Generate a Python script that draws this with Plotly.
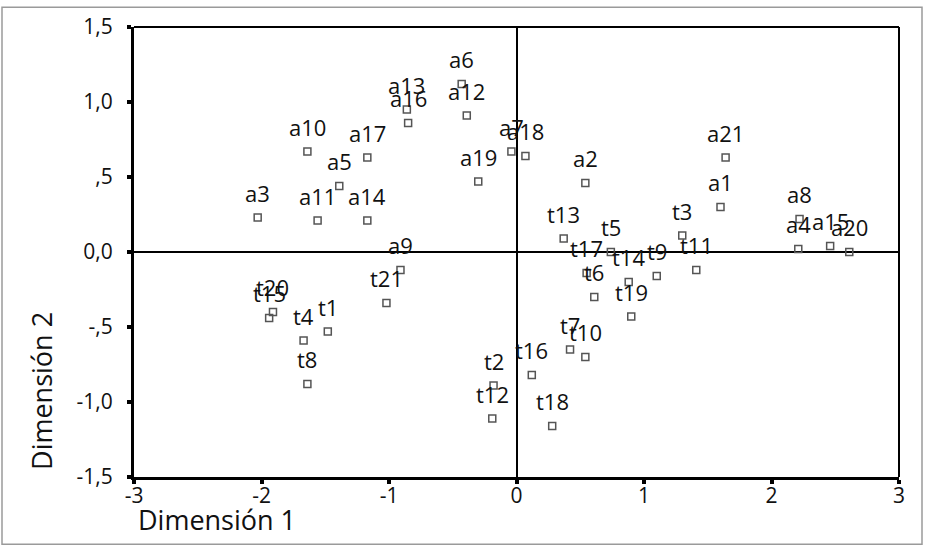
import plotly.graph_objects as go

# Category labels and coordinates (Dimensión 1, Dimensión 2)
a_labels = ["a1", "a2", "a3", "a4", "a5", "a6", "a7", "a8", "a9", "a10", "a11",
            "a12", "a13", "a14", "a15", "a16", "a17", "a18", "a19", "a20", "a21"]
a_dim1 = [1.60, 0.54, -2.03, 2.21, -1.39, -0.43, -0.04, 2.22, -0.91, -1.64, -1.56,
          -0.39, -0.86, -1.17, 2.46, -0.85, -1.17, 0.07, -0.30, 2.61, 1.64]
a_dim2 = [0.30, 0.46, 0.23, 0.02, 0.44, 1.12, 0.67, 0.22, -0.12, 0.67, 0.21,
          0.91, 0.95, 0.21, 0.04, 0.86, 0.63, 0.64, 0.47, 0.00, 0.63]

t_labels = ["t1", "t2", "t3", "t4", "t5", "t6", "t7", "t8", "t9", "t10", "t11",
            "t12", "t13", "t14", "t15", "t16", "t17", "t18", "t19", "t20", "t21"]
t_dim1 = [-1.48, -0.18, 1.30, -1.67, 0.74, 0.61, 0.42, -1.64, 1.10, 0.54, 1.41,
          -0.19, 0.37, 0.88, -1.94, 0.12, 0.55, 0.28, 0.90, -1.91, -1.02]
t_dim2 = [-0.53, -0.89, 0.11, -0.59, 0.00, -0.30, -0.65, -0.88, -0.16, -0.70, -0.12,
          -1.11, 0.09, -0.20, -0.44, -0.82, -0.14, -1.16, -0.43, -0.40, -0.34]

x_tickvals = [-3, -2, -1, 0, 1, 2, 3]
x_ticktext = ["-3", "-2", "-1", "0", "1", "2", "3"]
y_tickvals = [-1.5, -1.0, -0.5, 0.0, 0.5, 1.0, 1.5]
y_ticktext = ["-1,5", "-1,0", "-,5", "0,0", ",5", "1,0", "1,5"]

FONT = "Open Sans, Liberation Sans, Arial, sans-serif"

fig = go.Figure()
marker = dict(symbol="square-open", size=7, color="#555555", line=dict(width=1.5, color="#555555"))
fig.add_trace(go.Scatter(x=a_dim1, y=a_dim2, mode="markers", marker=marker,
                         showlegend=False, hoverinfo="text", text=a_labels))
fig.add_trace(go.Scatter(x=t_dim1, y=t_dim2, mode="markers", marker=marker,
                         showlegend=False, hoverinfo="text", text=t_labels))

annotations = []
for lab, xv, yv in list(zip(a_labels, a_dim1, a_dim2)) + list(zip(t_labels, t_dim1, t_dim2)):
    annotations.append(dict(x=xv, y=yv, xref="x", yref="y", text=lab, showarrow=False,
                            yshift=25, font=dict(family=FONT, size=22, color="#111111")))

annotations.append(dict(x=(136 - 134) / 765, y=(477 - 520) / 455, xref="paper", yref="paper",
                        text="Dimensión 1", showarrow=False, xanchor="left", yanchor="middle",
                        font=dict(family=FONT, size=27, color="#111111")))
annotations.append(dict(x=(42 - 134) / 765, y=(477 - 390) / 455, xref="paper", yref="paper",
                        text="Dimensión 2", showarrow=False, textangle=-90,
                        xanchor="center", yanchor="middle",
                        font=dict(family=FONT, size=27, color="#111111")))

shapes = [
    # top and right frame lines (thinner than axes)
    dict(type="line", xref="paper", yref="paper", x0=0, x1=1, y0=1, y1=1,
         line=dict(color="black", width=2)),
    dict(type="line", xref="paper", yref="paper", x0=1, x1=1, y0=0, y1=1,
         line=dict(color="black", width=2)),
    # outer gray border of the picture
    dict(type="rect", xref="paper", yref="paper",
         x0=(2 - 134) / 765, x1=(922 - 134) / 765,
         y0=(477 - 545) / 455, y1=(477 - 2) / 455,
         line=dict(color="#9a9a9a", width=1.5), layer="below"),
]

fig.update_layout(
    width=925, height=548,
    margin=dict(l=134, r=26, t=22, b=71),
    paper_bgcolor="white", plot_bgcolor="white",
    annotations=annotations, shapes=shapes,
    font=dict(family=FONT, color="#111111"),
)
fig.update_xaxes(range=[-3, 3], tickvals=x_tickvals, ticktext=x_ticktext,
                 showgrid=False, zeroline=True, zerolinecolor="black", zerolinewidth=1.5,
                 showline=True, linecolor="black", linewidth=3,
                 ticks="outside", ticklen=4, tickwidth=4, tickcolor="black",
                 ticklabelstandoff=-6,
                 tickfont=dict(family=FONT, size=21, color="#111111"))
fig.update_yaxes(range=[-1.5, 1.5], tickvals=y_tickvals, ticktext=y_ticktext,
                 showgrid=False, zeroline=True, zerolinecolor="black", zerolinewidth=1.5,
                 showline=True, linecolor="black", linewidth=3,
                 ticks="outside", ticklen=4, tickwidth=4, tickcolor="black",
                 ticklabelstandoff=10,
                 tickfont=dict(family=FONT, size=21, color="#111111"))

fig.write_html("out.html")
